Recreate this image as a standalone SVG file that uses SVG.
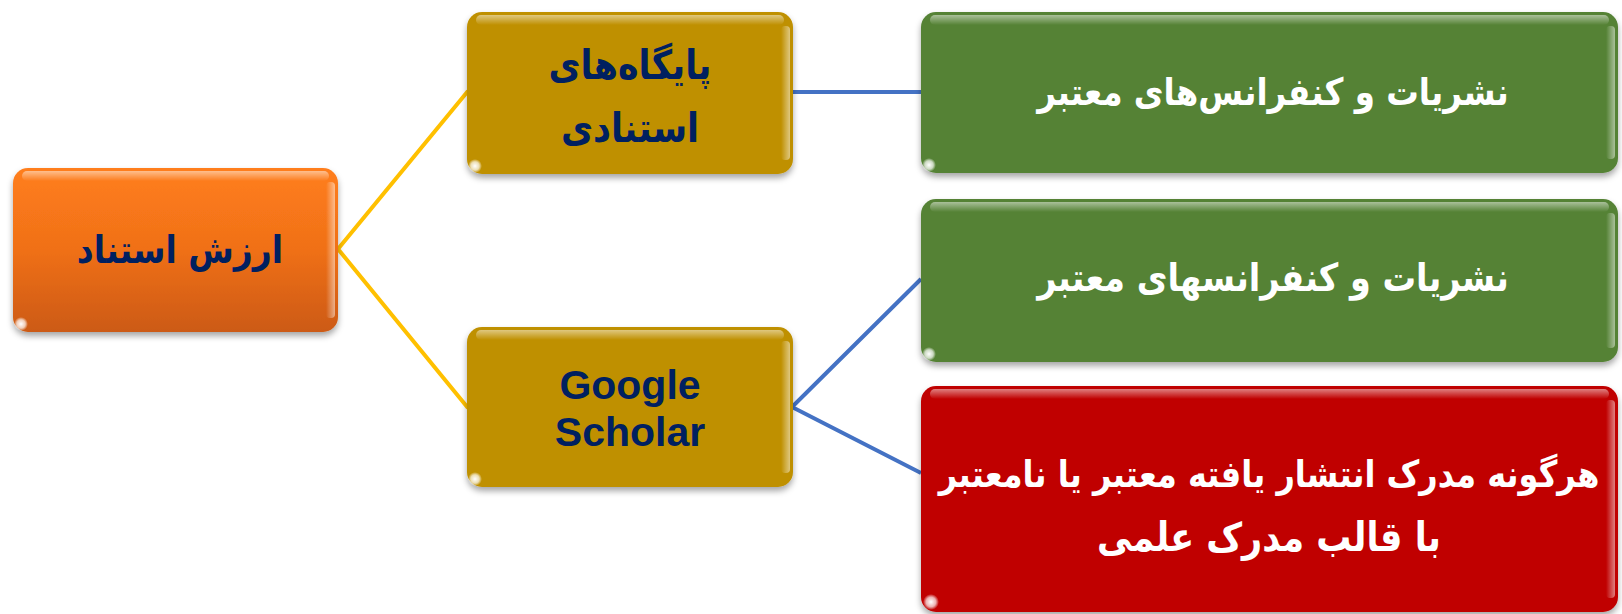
<svg xmlns="http://www.w3.org/2000/svg" width="1622" height="614" viewBox="0 0 1622 614">
<defs>
<style>
.lbl{font-family:"DejaVu Sans",sans-serif;font-weight:bold;text-anchor:middle;direction:rtl}
.en{font-family:"Liberation Sans",Arial,sans-serif;font-weight:bold;text-anchor:middle}
.navy{fill:#002060}
.white{fill:#ffffff}
.conY{stroke:#FFC000;stroke-width:4;fill:none}
.conB{stroke:#4472C4;stroke-width:4;fill:none}
.hl{fill:url(#topHl)}
.rh{fill:url(#rightHl)}
</style>
<filter id="sh" x="-5%" y="-5%" width="110%" height="120%">
<feDropShadow dx="0" dy="4" stdDeviation="3" flood-color="#000" flood-opacity="0.35"/>
</filter>
<linearGradient id="gOrange" x1="0" y1="0" x2="0" y2="1">
<stop offset="0" stop-color="#FF7E1C"/>
<stop offset="0.5" stop-color="#F07018"/>
<stop offset="1" stop-color="#CC5A12"/>
</linearGradient>
<linearGradient id="topHl" x1="0" y1="0" x2="0" y2="1">
<stop offset="0" stop-color="#fff" stop-opacity="0.5"/>
<stop offset="1" stop-color="#fff" stop-opacity="0"/>
</linearGradient>
<linearGradient id="rightHl" x1="0" y1="0" x2="1" y2="0">
<stop offset="0" stop-color="#fff" stop-opacity="0"/>
<stop offset="1" stop-color="#fff" stop-opacity="0.5"/>
</linearGradient>
<radialGradient id="glint">
<stop offset="0" stop-color="#fff" stop-opacity="1"/>
<stop offset="0.6" stop-color="#fff" stop-opacity="0.7"/>
<stop offset="1" stop-color="#fff" stop-opacity="0"/>
</radialGradient>
</defs>
<rect width="1622" height="614" fill="#ffffff"/>

<g id="connectors">
<polyline class="conY" points="468,91 338,249 468,408"/>
<line class="conB" x1="792" y1="92" x2="921" y2="92"/>
<polyline class="conB" points="921,279 792,407 921,473"/>
</g>

<g id="node-root">
<rect x="13" y="168" width="325" height="164" rx="15" fill="url(#gOrange)" filter="url(#sh)"/>
<rect x="22" y="171" width="307" height="10" rx="5" class="hl"/>
<rect x="326" y="182" width="9" height="136" rx="4" class="rh"/>
<circle cx="21" cy="324" r="7" fill="url(#glint)"/>
<text class="lbl navy" transform="translate(180,263) scale(1,1.15)" font-size="33">ارزش استناد</text>
</g>

<g id="node-citation-db">
<rect x="467" y="12" width="326" height="162" rx="15" fill="#BF9000" filter="url(#sh)"/>
<rect x="476" y="15" width="308" height="10" rx="5" class="hl"/>
<rect x="781" y="26" width="9" height="134" rx="4" class="rh"/>
<circle cx="475" cy="166" r="7" fill="url(#glint)"/>
<text class="lbl navy" transform="translate(630,79) scale(1,1.15)" font-size="35">پایگاه&#8204;های</text>
<text class="lbl navy" transform="translate(630,142) scale(1,1.15)" font-size="35">استنادی</text>
</g>

<g id="node-scholar">
<rect x="467" y="327" width="326" height="160" rx="15" fill="#BF9000" filter="url(#sh)"/>
<rect x="476" y="330" width="308" height="10" rx="5" class="hl"/>
<rect x="781" y="341" width="9" height="132" rx="4" class="rh"/>
<circle cx="475" cy="479" r="7" fill="url(#glint)"/>
<text class="en navy" x="630" y="399" font-size="41">Google</text>
<text class="en navy" x="630" y="446" font-size="41">Scholar</text>
</g>

<g id="node-green1">
<rect x="921" y="12" width="697" height="161" rx="15" fill="#548235" filter="url(#sh)"/>
<rect x="930" y="15" width="679" height="10" rx="5" class="hl"/>
<rect x="1606" y="26" width="9" height="133" rx="4" class="rh"/>
<circle cx="929" cy="165" r="7" fill="url(#glint)"/>
<text class="lbl white" transform="translate(1273,105) scale(1,1.15)" font-size="32.5">نشریات و کنفرانس&#8204;های معتبر</text>
</g>

<g id="node-green2">
<rect x="921" y="199" width="697" height="163" rx="15" fill="#548235" filter="url(#sh)"/>
<rect x="930" y="202" width="679" height="10" rx="5" class="hl"/>
<rect x="1606" y="213" width="9" height="135" rx="4" class="rh"/>
<circle cx="929" cy="354" r="7" fill="url(#glint)"/>
<text class="lbl white" transform="translate(1273,291) scale(1,1.15)" font-size="33.5">نشریات و کنفرانسهای معتبر</text>
</g>

<g id="node-red">
<rect x="921" y="386" width="697" height="226" rx="15" fill="#C00000" filter="url(#sh)"/>
<rect x="930" y="389" width="679" height="10" rx="5" class="hl"/>
<rect x="1606" y="400" width="9" height="198" rx="4" class="rh"/>
<circle cx="931" cy="602" r="8" fill="url(#glint)"/>
<text class="lbl white" transform="translate(1269,487) scale(1,1.15)" font-size="32">هرگونه مدرک انتشار یافته معتبر یا نامعتبر</text>
<text class="lbl white" transform="translate(1269,551) scale(1,1.15)" font-size="35">با قالب مدرک علمی</text>
</g>
</svg>
